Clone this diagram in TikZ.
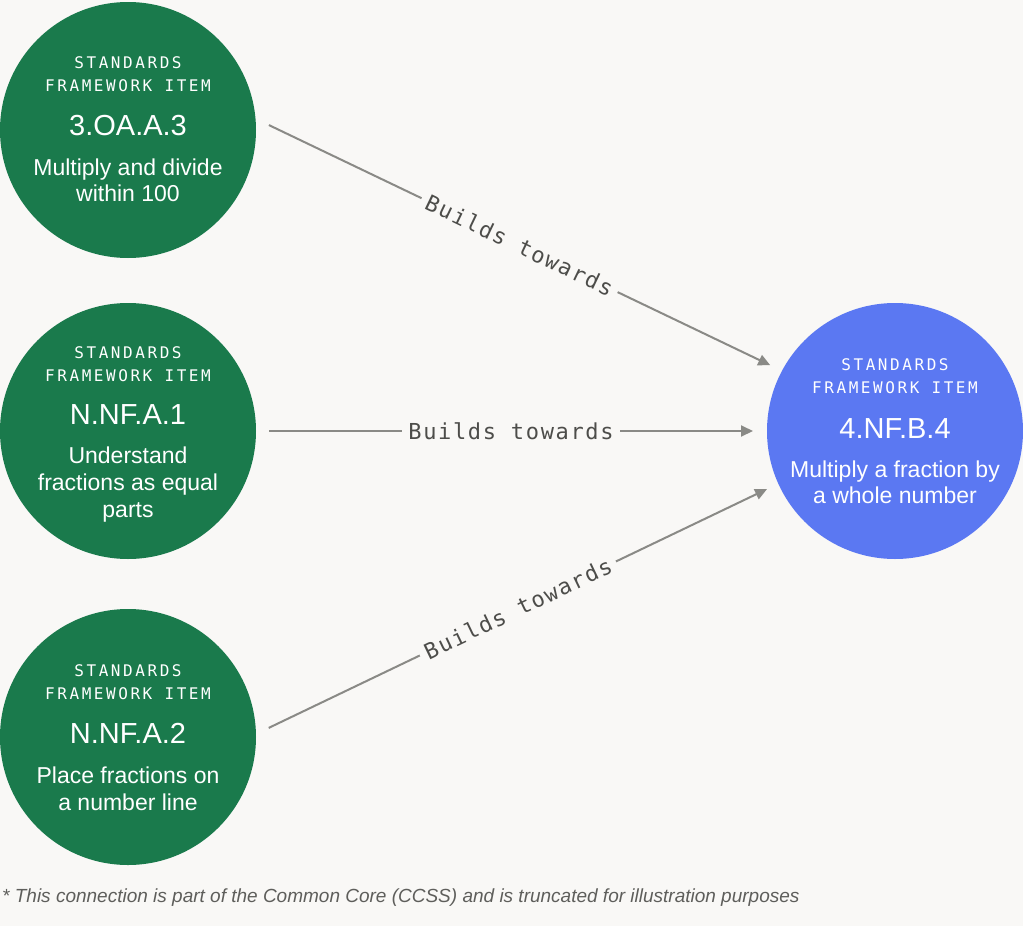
\documentclass[tikz,border=0pt]{standalone}
\usepackage{fontspec}
\setmainfont{Liberation Sans}
\newfontfamily\kickerfont[LetterSpace=16]{DejaVu Sans Mono}
\newfontfamily\labelfont[LetterSpace=7.5]{DejaVu Sans Mono}
\usetikzlibrary{arrows.meta,calc}
\definecolor{bg}{HTML}{F9F8F6}
\definecolor{stdgreen}{HTML}{1A7A4C}
\definecolor{stdblue}{HTML}{5B78F2}
\definecolor{linegray}{HTML}{8A8A86}
\definecolor{labelgray}{HTML}{4D4D4A}
\definecolor{notegray}{HTML}{5E5E5B}
\begin{document}
\begin{tikzpicture}[x=1pt,y=-1pt,
  item/.style={circle, minimum size=256pt, inner sep=0pt, outer sep=0pt, draw=none},
  greenitem/.style={item, fill=stdgreen},
  blueitem/.style={item, fill=stdblue},
  kicker/.style={anchor=base, text=white, inner sep=0pt, font=\kickerfont\fontsize{16}{16}\selectfont},
  code/.style={anchor=base, text=white, inner sep=0pt, font=\fontsize{29}{29}\selectfont},
  desc/.style={anchor=base, text=white, inner sep=0pt, font=\fontsize{23}{27}\selectfont},
  link/.style={draw=linegray, line width=2pt, -{Triangle[length=12pt,width=11pt]}},
  linklabel/.style={fill=bg, text=labelgray, sloped, inner xsep=6pt, inner ysep=3pt, font=\labelfont\fontsize{22}{22}\selectfont},
  note/.style={anchor=base west, text=notegray, inner sep=0pt, font=\itshape\fontsize{19}{19}\selectfont}
]
\useasboundingbox (0,0) rectangle (1023,926);
\fill[bg] (0,0) rectangle (1023,926);

% nodes
\node[greenitem] (a) at (128,130) {};
\node[greenitem] (b) at (128,431) {};
\node[greenitem] (c) at (128,737) {};
\node[blueitem]  (t) at (895,431) {};

% texts of a
\node[kicker] (a1) at (128,68) {STANDARDS};
\node[kicker] (a2) at (128,91) {FRAMEWORK ITEM};
\node[code]   (a3) at (128,135) {3.OA.A.3};
\node[desc]   (a4) at (128,175) {Multiply and divide};
\node[desc]   (a5) at (128,201) {within 100};

% texts of b
\node[kicker] (b1) at (128,358) {STANDARDS};
\node[kicker] (b2) at (128,381) {FRAMEWORK ITEM};
\node[code]   (b3) at (128,424) {N.NF.A.1};
\node[desc]   (b4) at (128,463) {Understand};
\node[desc]   (b5) at (128,490) {fractions as equal};
\node[desc]   (b6) at (128,517) {parts};

% texts of c
\node[kicker] (c1) at (128,676) {STANDARDS};
\node[kicker] (c2) at (128,699) {FRAMEWORK ITEM};
\node[code]   (c3) at (128,743) {N.NF.A.2};
\node[desc]   (c4) at (128,783) {Place fractions on};
\node[desc]   (c5) at (128,810) {a number line};

% texts of t
\node[kicker] (t1) at (895,370) {STANDARDS};
\node[kicker] (t2) at (895,393) {FRAMEWORK ITEM};
\node[code]   (t3) at (895,438) {4.NF.B.4};
\node[desc]   (t4) at (895,477) {Multiply a fraction by};
\node[desc]   (t5) at (895,503) {a whole number};

% connector end points
\coordinate (a-out) at ([shift={(2:141pt)}]a.center);
\coordinate (b-out) at ([shift={(0:141pt)}]b.center);
\coordinate (c-out) at ([shift={(3.7:141pt)}]c.center);
\coordinate (t-ina) at ([shift={(152.2:141pt)}]t.center);
\coordinate (t-inb) at ([shift={(180:142pt)}]t.center);
\coordinate (t-inc) at ([shift={(204.4:140.5pt)}]t.center);

\draw[link] (a-out) -- node[linklabel] (la) {Builds towards} (t-ina);
\draw[link] (b-out) -- node[linklabel] (lb) {Builds towards} (t-inb);
\draw[link] (c-out) -- node[linklabel] (lc) {Builds towards} (t-inc);

\node[note] (fn) at (2,902) {* This connection is part of the Common Core (CCSS) and is truncated for illustration purposes};
\end{tikzpicture}
\end{document}
